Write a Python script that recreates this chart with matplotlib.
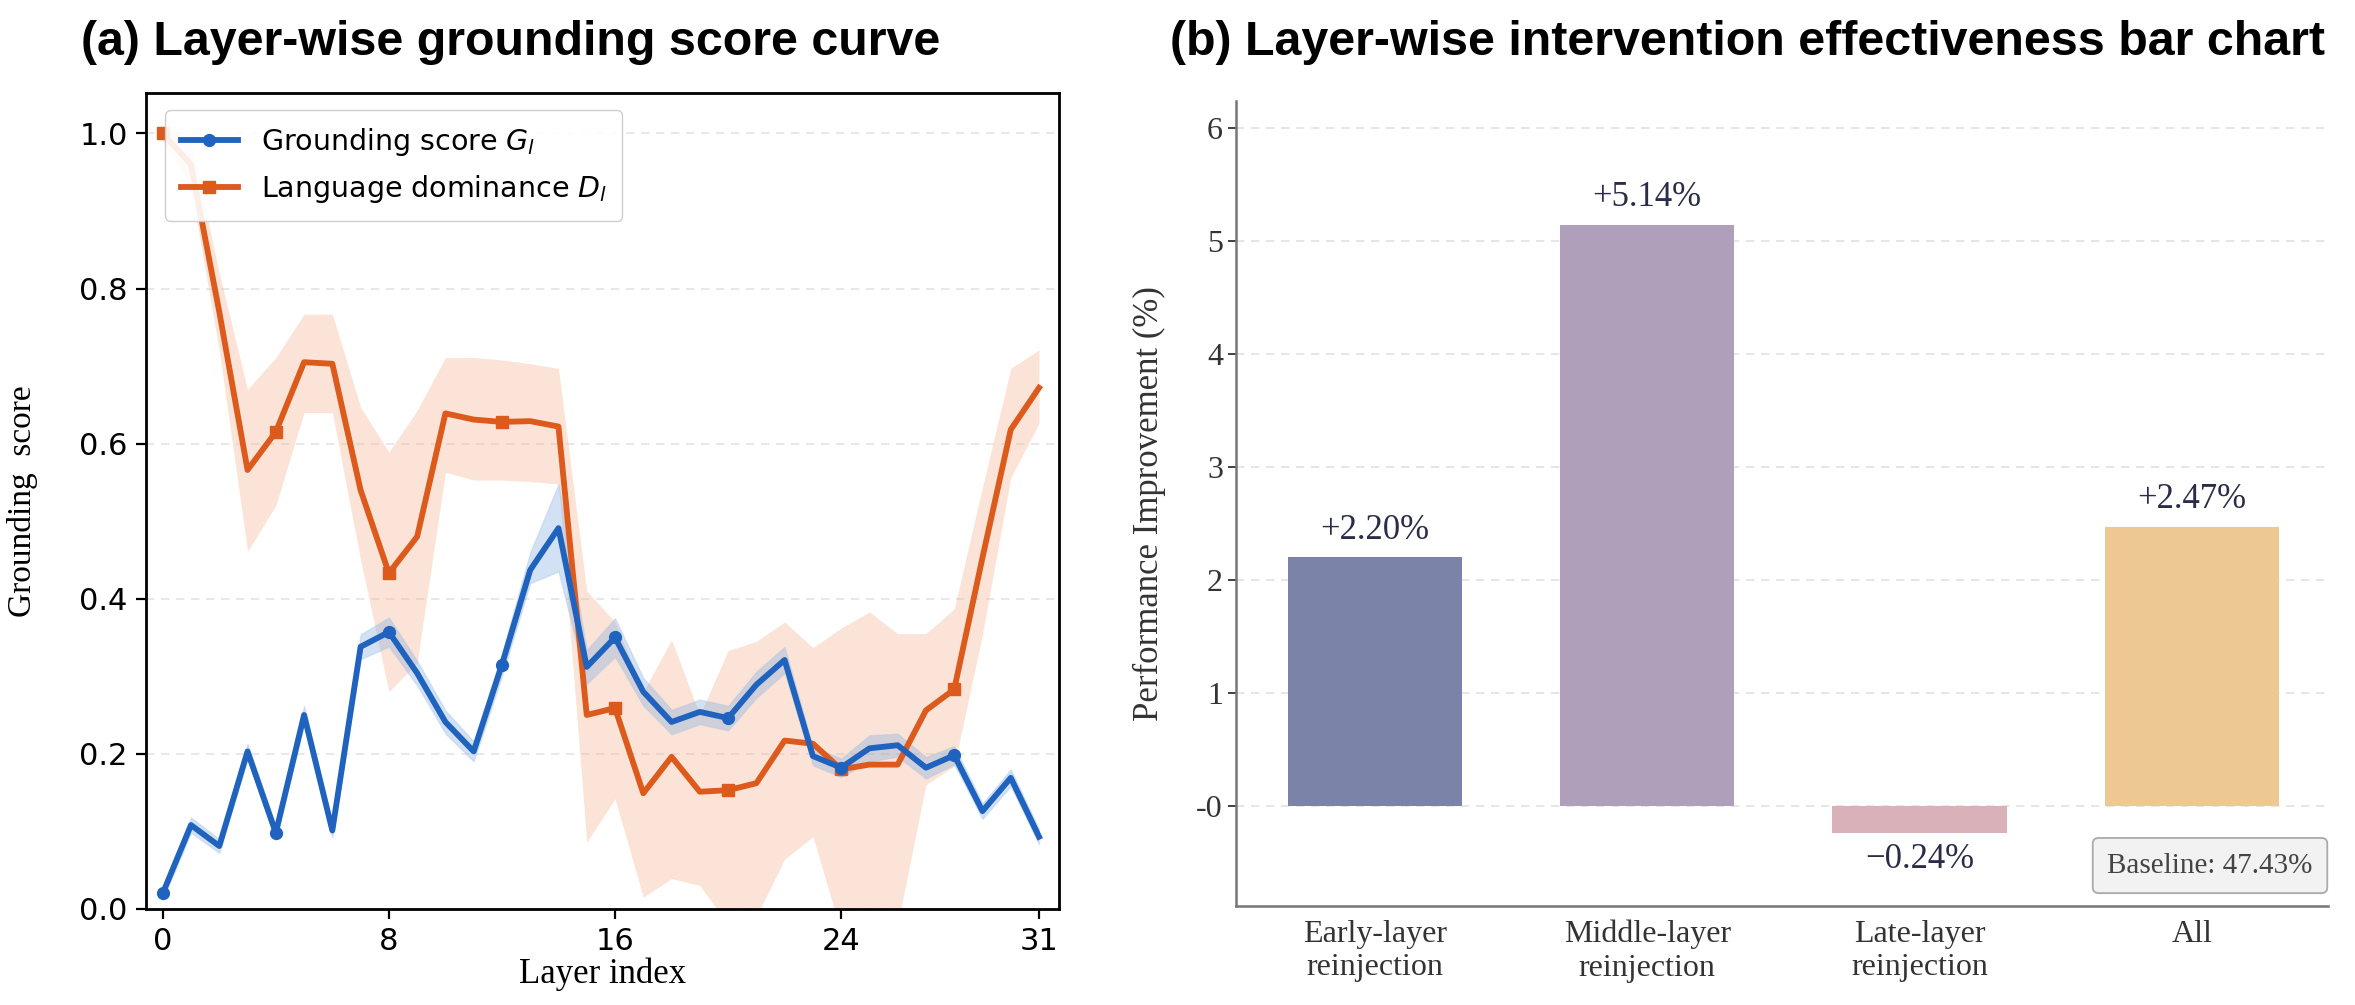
import matplotlib
matplotlib.use("Agg")
import matplotlib.pyplot as plt
import numpy as np
from matplotlib.ticker import FixedLocator, FixedFormatter

# ---------------- data ----------------
layers = list(range(32))
grounding = [0.02, 0.108, 0.081, 0.203, 0.098, 0.25, 0.101, 0.338, 0.357, 0.304,
             0.241, 0.203, 0.315, 0.437, 0.491, 0.312, 0.35, 0.28, 0.241, 0.254,
             0.246, 0.289, 0.321, 0.197, 0.182, 0.207, 0.211, 0.182, 0.198, 0.126,
             0.169, 0.093]
grounding_lo = [0.012, 0.098, 0.072, 0.193, 0.089, 0.238, 0.092, 0.322, 0.338, 0.288,
                0.226, 0.19, 0.3, 0.42, 0.435, 0.29, 0.325, 0.262, 0.225, 0.238,
                0.23, 0.272, 0.304, 0.185, 0.17, 0.19, 0.196, 0.168, 0.186, 0.116,
                0.158, 0.083]
grounding_hi = [0.028, 0.118, 0.09, 0.213, 0.107, 0.262, 0.11, 0.354, 0.376, 0.32,
                0.256, 0.216, 0.33, 0.46, 0.548, 0.334, 0.375, 0.298, 0.257, 0.27,
                0.262, 0.306, 0.338, 0.209, 0.194, 0.224, 0.226, 0.196, 0.21, 0.136,
                0.18, 0.103]
dominance = [1.0, 0.96, 0.77, 0.566, 0.615, 0.705, 0.703, 0.54, 0.433, 0.48,
             0.639, 0.631, 0.628, 0.629, 0.622, 0.25, 0.259, 0.149, 0.196, 0.151,
             0.153, 0.162, 0.217, 0.213, 0.18, 0.186, 0.186, 0.256, 0.283, 0.453,
             0.618, 0.672]
dominance_lo = [0.99, 0.93, 0.72, 0.461, 0.52, 0.64, 0.64, 0.45, 0.28, 0.317,
                0.563, 0.553, 0.553, 0.551, 0.548, 0.086, 0.142, 0.015, 0.039, 0.03,
                -0.02, -0.01, 0.064, 0.093, -0.03, -0.03, -0.02, 0.16, 0.184, 0.354,
                0.556, 0.626]
dominance_hi = [1.01, 0.99, 0.82, 0.67, 0.711, 0.767, 0.767, 0.647, 0.589, 0.643,
                0.711, 0.711, 0.708, 0.703, 0.697, 0.41, 0.37, 0.28, 0.347, 0.25,
                0.333, 0.345, 0.37, 0.337, 0.362, 0.383, 0.355, 0.355, 0.387, 0.544,
                0.697, 0.721]
layer_ticks = [0, 8, 16, 24, 31]

categories = ["Early-layer\nreinjection", "Middle-layer\nreinjection",
              "Late-layer\nreinjection", "All"]
improvements = [2.20, 5.14, -0.24, 2.47]
value_labels = ["+2.20%", "+5.14%", "\u22120.24%", "+2.47%"]
bar_colors = ["#7B83A9", "#B09FBB", "#D9B1B8", "#EDC892"]
baseline_text = "Baseline: 47.43%"
right_yticks = [0, 1, 2, 3, 4, 5, 6]
right_yticklabels = ["-0", "1", "2", "3", "4", "5", "6"]

# ---------------- figure ----------------
fig = plt.figure(figsize=(23.55, 10.05), dpi=100)
title_font = dict(family=["Liberation Sans Narrow", "Liberation Sans", "DejaVu Sans"],
                  weight="bold", size=34.8)
serif = ["Liberation Serif", "DejaVu Serif"]

# ---------- left panel ----------
ax1 = fig.add_axes([0.0619, 0.0957, 0.3877, 0.8116])
blue = "#1F63BE"
orange = "#DB5A1C"
ax1.fill_between(layers, dominance_lo, dominance_hi, color="#F6B48F", alpha=0.35,
                 linewidth=0)
ax1.fill_between(layers, grounding_lo, grounding_hi, color="#7FA9DD", alpha=0.35,
                 linewidth=1.0, edgecolor="#A9C4E8")
ax1.plot(layers, grounding, color=blue, lw=4.2, marker="o", markersize=8.5,
         markevery=4, label=r"Grounding score $G_l$", zorder=4)
ax1.plot(layers, dominance, color=orange, lw=4.2, marker="s", markersize=8.5,
         markevery=4, label=r"Language dominance $D_l$", zorder=3)
ax1.set_xlim(-0.6, 31.7)
ax1.set_ylim(0, 1.052)
ax1.set_xticks(layer_ticks)
ax1.set_yticks([0.0, 0.2, 0.4, 0.6, 0.8, 1.0])
ax1.yaxis.grid(True, linestyle=(0, (5, 4)), color="#E4E4E4", linewidth=1.2)
ax1.set_axisbelow(True)
for s in ax1.spines.values():
    s.set_linewidth(2.0)
    s.set_color("black")
ax1.tick_params(axis="both", labelsize=22, length=7, width=1.6, pad=6)
for lab in ax1.get_xticklabels() + ax1.get_yticklabels():
    lab.set_family(["Liberation Sans Narrow", "DejaVu Sans"])
ax1.set_ylabel("Grounding  score", family=serif, size=24, labelpad=30)
ax1.set_xlabel("Layer index", family=serif, size=25, labelpad=1)
leg = ax1.legend(loc="upper left", bbox_to_anchor=(0.012, 0.99), fontsize=20.5,
                 frameon=True, fancybox=True, edgecolor="#C8C8C8", framealpha=0.9,
                 handlelength=2.0, borderaxespad=0.3, labelspacing=0.55,
                 borderpad=0.55)
for t in leg.get_texts():
    t.set_family(["Liberation Sans Narrow", "DejaVu Sans"])
fig.text(0.217, 0.958, "(a) Layer-wise grounding score curve", ha="center",
         va="center", **title_font)

# ---------- right panel ----------
ax2 = fig.add_axes([0.5249, 0.0987, 0.4636, 0.8012])
x = np.arange(len(categories))
ax2.bar(x, improvements, width=0.64, color=bar_colors, zorder=3)
ax2.set_xlim(-0.51, 3.5)
ax2.set_ylim(-0.88, 6.24)
ax2.yaxis.set_major_locator(FixedLocator(right_yticks))
ax2.yaxis.set_major_formatter(FixedFormatter(right_yticklabels))
ax2.set_xticks(x)
ax2.set_xticklabels(categories)
ax2.yaxis.grid(True, linestyle=(0, (5, 4)), color="#E2E2E2", linewidth=1.2)
ax2.set_axisbelow(True)
for side in ["top", "right"]:
    ax2.spines[side].set_visible(False)
for side in ["left", "bottom"]:
    ax2.spines[side].set_color("#777777")
    ax2.spines[side].set_linewidth(1.8)
ax2.tick_params(axis="both", labelsize=23, colors="#333333", length=6, width=1.3)
ax2.tick_params(axis="x", length=0, pad=10)
for lab in ax2.get_xticklabels() + ax2.get_yticklabels():
    lab.set_family(serif)
ax2.set_ylabel("Performance Improvement (%)", family=serif, size=25,
               color="#333333", labelpad=22)
for xi, v, lab in zip(x, improvements, value_labels):
    if v >= 0:
        ax2.text(xi, v + 0.24, lab, ha="center", va="center", family=serif,
                 size=25, color="#2B2D48")
    else:
        ax2.text(xi, v - 0.23, lab, ha="center", va="center", family=serif,
                 size=25, color="#2B2D48")
ax2.text(0.892, 0.05, baseline_text, transform=ax2.transAxes, ha="center",
         va="center", family=serif, size=21, color="#444444",
         bbox=dict(boxstyle="round,pad=0.5,rounding_size=0.2", facecolor="#F2F2F2",
                   edgecolor="#AAAAAA", linewidth=1.3))
fig.text(0.742, 0.958, "(b) Layer-wise intervention effectiveness bar chart",
         ha="center", va="center", **title_font)

fig.savefig("out.png", dpi=100)
